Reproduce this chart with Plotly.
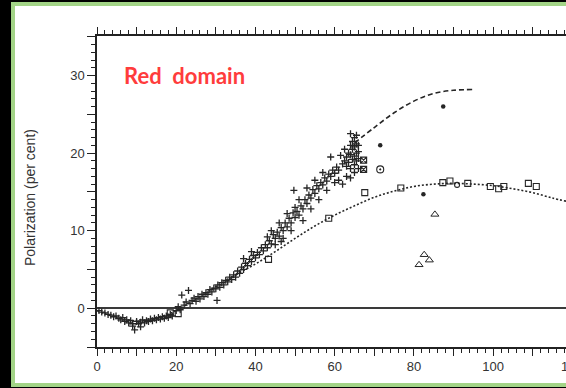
import plotly.graph_objects as go

# ---- data ----
cross_x = [0.5, 1.2, 2.0, 2.8, 3.5, 4.2, 4.8, 5.5, 6.0, 6.5, 7.0, 7.5, 8.0, 8.5, 9.0, 9.5, 10.0, 10.5,
           11.0, 11.5, 12.0, 12.5, 13.0, 13.5, 14.0, 14.5, 15.0, 15.5, 16.0, 16.5, 17.0, 17.5, 18.0,
           18.5, 19.0, 11.0, 9.0,
           20.0, 20.5, 21.0, 21.4, 22.0, 22.5, 23.1, 23.5, 24.0, 24.5, 25.0, 25.5, 26.0, 26.5, 27.0,
           27.5, 28.0, 28.5, 29.0, 29.5, 30.3, 30.0,
           30.5, 31.0, 31.5, 32.0, 32.5, 33.0, 33.5, 34.0, 34.5, 35.0, 35.5, 36.0, 36.5, 37.0, 37.5,
           38.0, 38.5, 39.0, 39.5, 40.0, 37.0, 39.0,
           40.5, 41.0, 41.5, 42.0, 42.5, 43.0, 43.5, 44.0, 44.5, 45.0, 45.5, 46.0, 46.5, 47.0, 47.5,
           48.0, 48.5, 49.0, 49.5, 50.0, 44.0, 45.0, 46.0, 47.0, 48.0, 49.0, 49.7, 50.0, 46.5, 43.0,
           50.5, 51.0, 51.5, 52.0, 52.5, 53.0, 53.5, 54.0, 54.5, 55.0, 55.5, 56.0, 56.5, 57.0, 57.5,
           58.0, 58.5, 59.0, 59.5, 60.0, 51.0, 52.0, 53.0, 54.0, 55.0, 56.0, 57.0, 58.0, 59.0, 60.0,
           60.5, 61.0, 61.5, 62.0, 62.5, 63.0, 63.0, 63.5, 63.5, 64.0, 64.0, 64.0, 64.0, 64.5, 64.5,
           64.5, 65.0, 65.0, 65.0, 65.0, 65.0, 65.5, 65.5, 65.5, 65.5, 66.0, 66.0, 66.0, 66.0, 62.0,
           61.0, 63.0, 62.5, 64.0]
cross_y = [-0.3, -0.5, -0.6, -0.8, -0.9, -1.1, -1.0, -1.3, -1.5, -1.2, -1.7, -1.5, -1.9, -1.6, -2.0,
           -2.8, -1.7, -2.0, -1.8, -1.5, -1.9, -1.6, -1.7, -1.4, -1.6, -1.3, -1.5, -1.2, -1.4, -1.1,
           -1.3, -1.0, -1.2, -0.8, -1.0, -2.4, -2.3,
           -0.3, 0.2, -0.2, 1.7, 0.4, 0.8, 2.3, 0.6, 1.0, 1.3, 0.9, 1.5, 1.2, 1.8, 1.5, 2.0, 1.8, 2.4,
           2.1, 2.6, 1.0, 2.5,
           3.0, 2.7, 3.3, 3.0, 3.6, 3.4, 4.0, 3.7, 4.3, 4.0, 4.8, 4.5, 5.3, 5.0, 5.8, 5.5, 6.3, 6.0,
           6.8, 6.5, 6.4, 7.3,
           7.2, 6.9, 7.8, 7.4, 8.2, 7.8, 8.7, 8.3, 9.5, 9.0, 9.8, 9.3, 10.4, 10.0, 11.0, 10.5, 11.6,
           11.0, 12.3, 11.7, 10.0, 8.2, 11.0, 9.0, 12.2, 10.0, 15.2, 13.0, 8.6, 9.2,
           12.5, 12.0, 13.2, 12.8, 14.0, 13.5, 14.6, 14.2, 15.3, 14.8, 15.8, 15.4, 16.2, 15.9, 16.8,
           16.4, 17.3, 17.0, 17.8, 17.4, 14.0, 11.3, 15.5, 12.8, 16.5, 14.0, 17.5, 15.2, 19.5, 16.2,
           18.2, 17.8, 19.7, 18.6, 19.0, 18.3, 19.5, 20.0, 18.8, 22.5, 21.0, 19.8, 18.0, 20.5, 19.2,
           21.5, 22.0, 20.8, 19.6, 18.5, 17.5, 21.2, 20.0, 19.0, 22.3, 21.0, 20.2, 19.3, 18.0, 16.0,
           16.5, 17.0, 20.5, 16.8]

square_x = [18.5, 20.5, 43.3, 58.5, 67.6, 76.7, 87.3, 89.1, 93.6, 99.3, 101.4, 102.7, 108.9, 110.9]
square_y = [-0.6, -0.7, 6.3, 11.6, 14.9, 15.5, 16.2, 16.4, 16.1, 15.7, 15.4, 15.7, 16.1, 15.7]

ring_x = [90.9]
ring_y = [15.9]

dot_x = [71.5, 87.4, 82.4]
dot_y = [21.0, 26.0, 14.7]

circdot_x = [71.5]
circdot_y = [17.9]

xsq_x = [67.3, 67.3]
xsq_y = [19.1, 17.9]

tri_x = [85.3, 82.6, 83.9, 81.3]
tri_y = [12.1, 6.9, 6.2, 5.6]

dash_x = [65, 70, 75, 80, 85, 90, 95]
dash_y = [21.3, 23.3, 25.2, 26.7, 27.7, 28.1, 28.2]

dot_curve_x = [0, 5, 10, 15, 20, 25, 30, 35, 40, 45, 50, 55, 60, 65, 70, 75, 80, 85, 90, 95,
               100, 105, 110, 115, 118.4]
dot_curve_y = [-0.3, -1.2, -1.6, -1.3, -0.3, 1.2, 2.8, 4.3, 5.7, 7.3, 9.0, 10.6, 12.0, 13.2,
               14.3, 15.1, 15.7, 16.0, 16.1, 16.0, 15.8, 15.4, 14.9, 14.2, 13.8]

x_tick_vals = [0, 10, 20, 30, 40, 50, 60, 70, 80, 90, 100, 110]
x_tick_text = ["0", "", "20", "", "40", "", "60", "", "80", "", "100", ""]
y_tick_vals = [-5, 0, 5, 10, 15, 20, 25, 30, 35]
y_tick_text = ["", "0", "", "10", "", "20", "", "30", ""]

INK = "#262626"

fig = go.Figure()
fig.add_trace(go.Scatter(x=dot_curve_x, y=dot_curve_y, mode="lines", line_shape="spline",
                         line=dict(color=INK, width=1.6, dash="2px,2px"), hoverinfo="skip"))
fig.add_trace(go.Scatter(x=dash_x, y=dash_y, mode="lines", line_shape="spline",
                         line=dict(color=INK, width=1.6, dash="5px,3px"), hoverinfo="skip"))
fig.add_trace(go.Scatter(x=cross_x, y=cross_y, mode="markers",
                         marker=dict(symbol="cross-thin-open", size=5, color=INK,
                                     line=dict(color=INK, width=1.3))))
fig.add_trace(go.Scatter(x=square_x, y=square_y, mode="markers",
                         marker=dict(symbol="square-open", size=6, color=INK, line=dict(color=INK, width=1.1))))
fig.add_trace(go.Scatter(x=ring_x, y=ring_y, mode="markers",
                         marker=dict(symbol="circle-open", size=5, color=INK, line=dict(color=INK, width=1.1))))
fig.add_trace(go.Scatter(x=dot_x, y=dot_y, mode="markers",
                         marker=dict(symbol="circle", size=4.5, color=INK)))
fig.add_trace(go.Scatter(x=circdot_x, y=circdot_y, mode="markers",
                         marker=dict(symbol="circle-open-dot", size=7, color=INK, line=dict(color=INK, width=1.1))))
fig.add_trace(go.Scatter(x=xsq_x, y=xsq_y, mode="markers",
                         marker=dict(symbol="square-x-open", size=6, color=INK, line=dict(color=INK, width=1.2))))
fig.add_trace(go.Scatter(x=tri_x, y=tri_y, mode="markers",
                         marker=dict(symbol="triangle-up-open", size=7, color=INK, line=dict(color=INK, width=1.0))))

L, T, B = 97, 36, 41
W, H = 566, 388
pw, ph = W - L, H - T - B

def px_x(p):
    return (p - L) / pw

def px_y(p):
    return (H - B - p) / ph

fig.add_shape(type="rect", xref="paper", yref="paper", layer="below",
              x0=px_x(13), x1=px_x(580), y0=px_y(385), y1=px_y(4),
              line=dict(color="#a3d487", width=4), fillcolor="white")

tick_font = dict(family="Liberation Sans, Arial, sans-serif", size=13, color="#333333")

fig.update_layout(
    width=W, height=H,
    margin=dict(l=L, r=0, t=T, b=B),
    paper_bgcolor="black",
    plot_bgcolor="white",
    showlegend=False,
    xaxis=dict(range=[0, 118.4], showgrid=False, zeroline=False,
               showline=True, linecolor="#222", linewidth=1.5, mirror="ticks",
               ticks="outside", ticklen=7, tickwidth=1.3, tickcolor="#222",
               tickvals=x_tick_vals, ticktext=x_tick_text, tickfont=tick_font,
               minor=dict(dtick=2, ticklen=4, tickwidth=1, tickcolor="#222", ticks="outside", showgrid=False)),
    yaxis=dict(range=[-5, 35.1], showgrid=False,
               zeroline=True, zerolinecolor="#3a3a3a", zerolinewidth=1.6,
               showline=True, linecolor="#222", linewidth=1.5, mirror=False,
               ticks="outside", ticklen=8, tickwidth=1.3, tickcolor="#222",
               tickvals=y_tick_vals, ticktext=y_tick_text, tickfont=tick_font,
               minor=dict(dtick=1, ticklen=4, tickwidth=1, tickcolor="#222", ticks="outside", showgrid=False)),
)

fig.add_annotation(xref="paper", yref="paper", x=px_x(30), y=px_y(198), xanchor="center", yanchor="middle",
                   text="Polarization (per cent)", textangle=-90, showarrow=False,
                   font=dict(family="Liberation Sans, Arial, sans-serif", size=14, color="#333333"))
fig.add_annotation(xref="paper", yref="paper", x=120 / 118.4, y=px_y(366), xanchor="center", yanchor="middle",
                   text="120", showarrow=False, font=tick_font)
fig.add_annotation(xref="paper", yref="paper", x=px_x(122), y=px_y(75), xanchor="left", yanchor="middle",
                   text="Red\u00a0 domain", showarrow=False,
                   font=dict(family="Lato, Open Sans, sans-serif", size=22, color="#ff3c3c", weight="bold"))

fig.write_html("out.html", config={"displayModeBar": False},
               post_script="document.body.style.margin='0';document.body.style.overflow='hidden';")
